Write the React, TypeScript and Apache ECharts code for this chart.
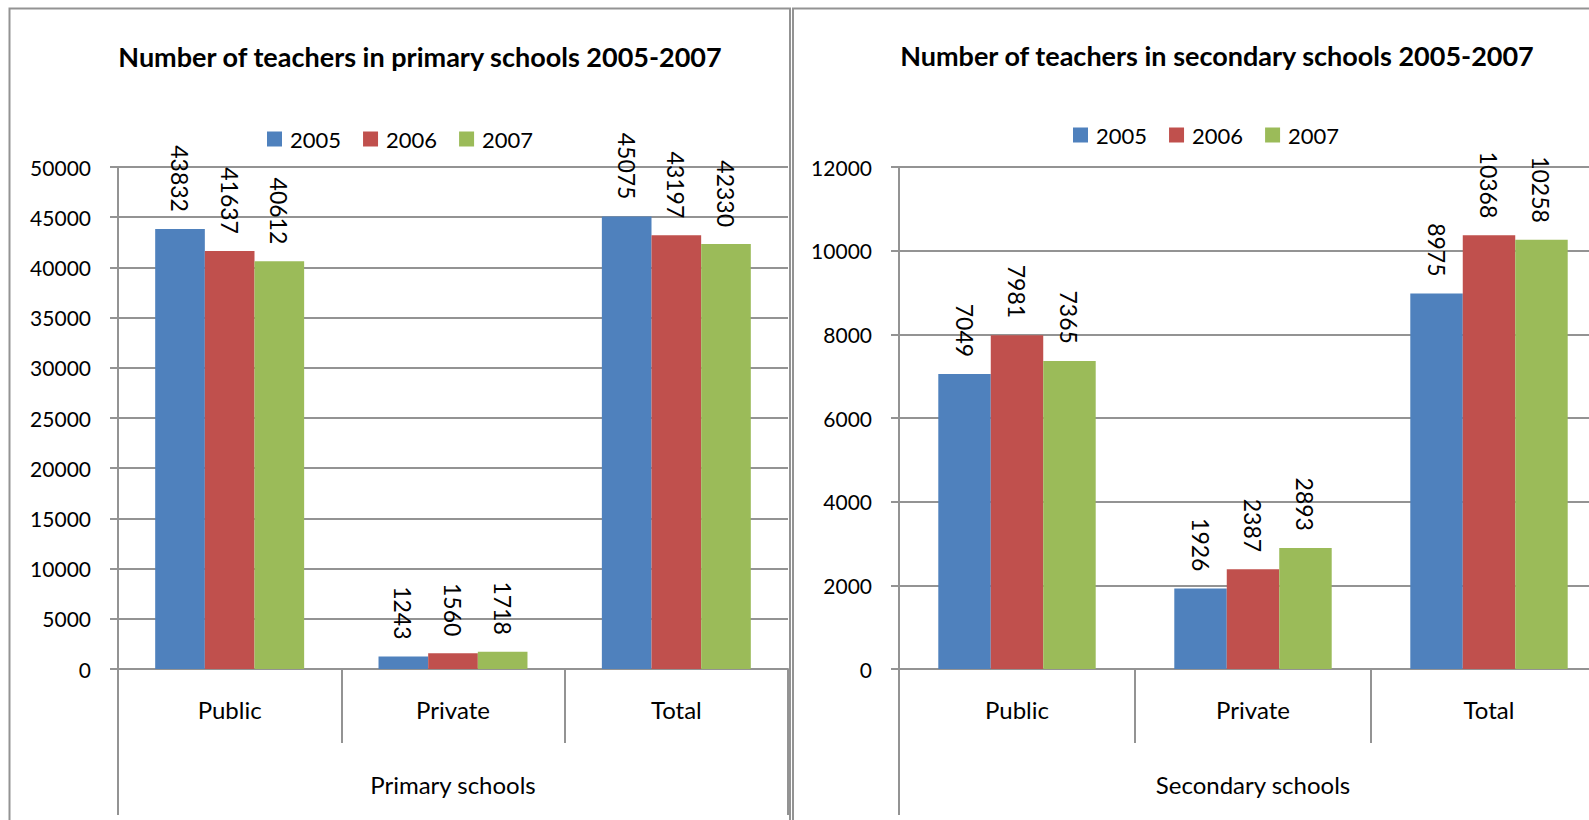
import React, { useEffect, useRef } from "react";
import * as echarts from "echarts";

const categories = ["Public", "Private", "Total"];
const years = ["2005", "2006", "2007"];
const colors = ["#4F81BD", "#C0504D", "#9BBB59"];

const primary2005 = [43832, 1243, 45075];
const primary2006 = [41637, 1560, 43197];
const primary2007 = [40612, 1718, 42330];

const secondary2005 = [7049, 1926, 8975];
const secondary2006 = [7981, 2387, 10368];
const secondary2007 = [7365, 2893, 10258];

const primaryAxis = { min: 0, max: 50000, interval: 5000 };
const secondaryAxis = { min: 0, max: 12000, interval: 2000 };

const primaryTitle = "Number of teachers in primary schools 2005-2007";
const secondaryTitle = "Number of teachers in secondary schools 2005-2007";
const primaryGroup = "Primary schools";
const secondaryGroup = "Secondary schools";

const FONT = "Lato";
const GRAY = "#939393";

export default function App() {
  const ref = useRef<HTMLDivElement>(null);
  useEffect(() => {
    if (!ref.current) return;
    const chart = echarts.init(ref.current, null, { renderer: "svg" });
    const primary = [primary2005, primary2006, primary2007];
    const secondary = [secondary2005, secondary2006, secondary2007];

    const label = {
      show: true,
      position: "top",
      rotate: -90,
      align: "right",
      verticalAlign: "middle",
      distance: 17,
      color: "#000",
      fontFamily: FONT,
      fontSize: 23,
    };

    const lvl1 = (gridIndex: number) => ({
      type: "category",
      gridIndex,
      position: "bottom",
      data: categories,
      axisLine: { show: true, lineStyle: { color: GRAY, width: 2 } },
      axisTick: { show: true, length: 74, interval: 0, lineStyle: { color: GRAY, width: 2 } },
      axisLabel: { color: "#000", fontFamily: FONT, fontSize: 24, margin: 28, interval: 0 },
      splitLine: { show: false },
    });
    const lvl2 = (gridIndex: number, name: string) => ({
      type: "category",
      gridIndex,
      position: "bottom",
      data: [name],
      offset: 74,
      axisLine: { show: false },
      axisTick: { show: true, length: 72, interval: 0, lineStyle: { color: GRAY, width: 2 } },
      axisLabel: { color: "#000", fontFamily: FONT, fontSize: 24, margin: 29 },
      splitLine: { show: false },
    });
    const yAx = (gridIndex: number, r: any) => ({
      type: "value",
      gridIndex,
      min: r.min,
      max: r.max,
      interval: r.interval,
      axisLine: { show: true, lineStyle: { color: GRAY, width: 2 } },
      axisTick: { show: true, length: 8, lineStyle: { color: GRAY, width: 2 } },
      axisLabel: {
        color: "#000",
        fontFamily: FONT,
        fontSize: 21,
        margin: 27,
        formatter: (v: number) => String(v),
      },
      splitLine: { show: true, lineStyle: { color: GRAY, width: 2 } },
    });

    const series: any[] = [];
    years.forEach((y, i) => {
      series.push({
        name: y,
        type: "bar",
        xAxisIndex: 0,
        yAxisIndex: 0,
        data: primary[i],
        itemStyle: { color: colors[i] },
        barGap: "0%",
        barCategoryGap: "33.3%",
        label,
      });
    });
    years.forEach((y, i) => {
      series.push({
        name: y,
        type: "bar",
        xAxisIndex: 2,
        yAxisIndex: 1,
        data: secondary[i],
        itemStyle: { color: colors[i] },
        barGap: "0%",
        barCategoryGap: "33.3%",
        label,
      });
    });

    const legendBase = {
      data: years,
      itemWidth: 15,
      itemHeight: 15,
      itemGap: 22,
      icon: "rect",
      padding: 0,
      selectedMode: false,
      textStyle: { color: "#000", fontFamily: FONT, fontSize: 22, padding: [0, 0, 0, 3] },
    };

    chart.setOption({
      animation: false,
      backgroundColor: "#fff",
      grid: [
        { left: 118, top: 167, width: 670, height: 502, outerBoundsMode: "none", containLabel: false },
        { left: 899, top: 167, width: 708, height: 502, outerBoundsMode: "none", containLabel: false },
      ],
      xAxis: [lvl1(0), lvl2(0, primaryGroup), lvl1(1), lvl2(1, secondaryGroup)],
      yAxis: [yAx(0, primaryAxis), yAx(1, secondaryAxis)],
      legend: [
        { ...legendBase, left: 267, top: 128 },
        { ...legendBase, left: 1073, top: 124 },
      ],
      series,
      graphic: [
        {
          type: "polyline",
          shape: { points: [[9.5, 830], [9.5, 8.5], [790, 8.5], [790, 830]] },
          style: { stroke: GRAY, lineWidth: 2, fill: "none" },
        },
        {
          type: "polyline",
          shape: { points: [[793, 830], [793, 8.5], [1600, 8.5]] },
          style: { stroke: GRAY, lineWidth: 2, fill: "none" },
        },
        {
          type: "text",
          x: 420,
          y: 56,
          style: {
            text: primaryTitle,
            textAlign: "center",
            textVerticalAlign: "middle",
            fontFamily: FONT,
            fontWeight: "bold",
            fontSize: 27,
            fill: "#000",
          },
        },
        {
          type: "text",
          x: 1217,
          y: 55,
          style: {
            text: secondaryTitle,
            textAlign: "center",
            textVerticalAlign: "middle",
            fontFamily: FONT,
            fontWeight: "bold",
            fontSize: 27,
            fill: "#000",
          },
        },
      ],
    });
    return () => chart.dispose();
  }, []);
  return (
    <div
      ref={ref}
      style={{ position: "absolute", left: 0, top: 0, width: 1589, height: 820, background: "#fff" }}
    />
  );
}
